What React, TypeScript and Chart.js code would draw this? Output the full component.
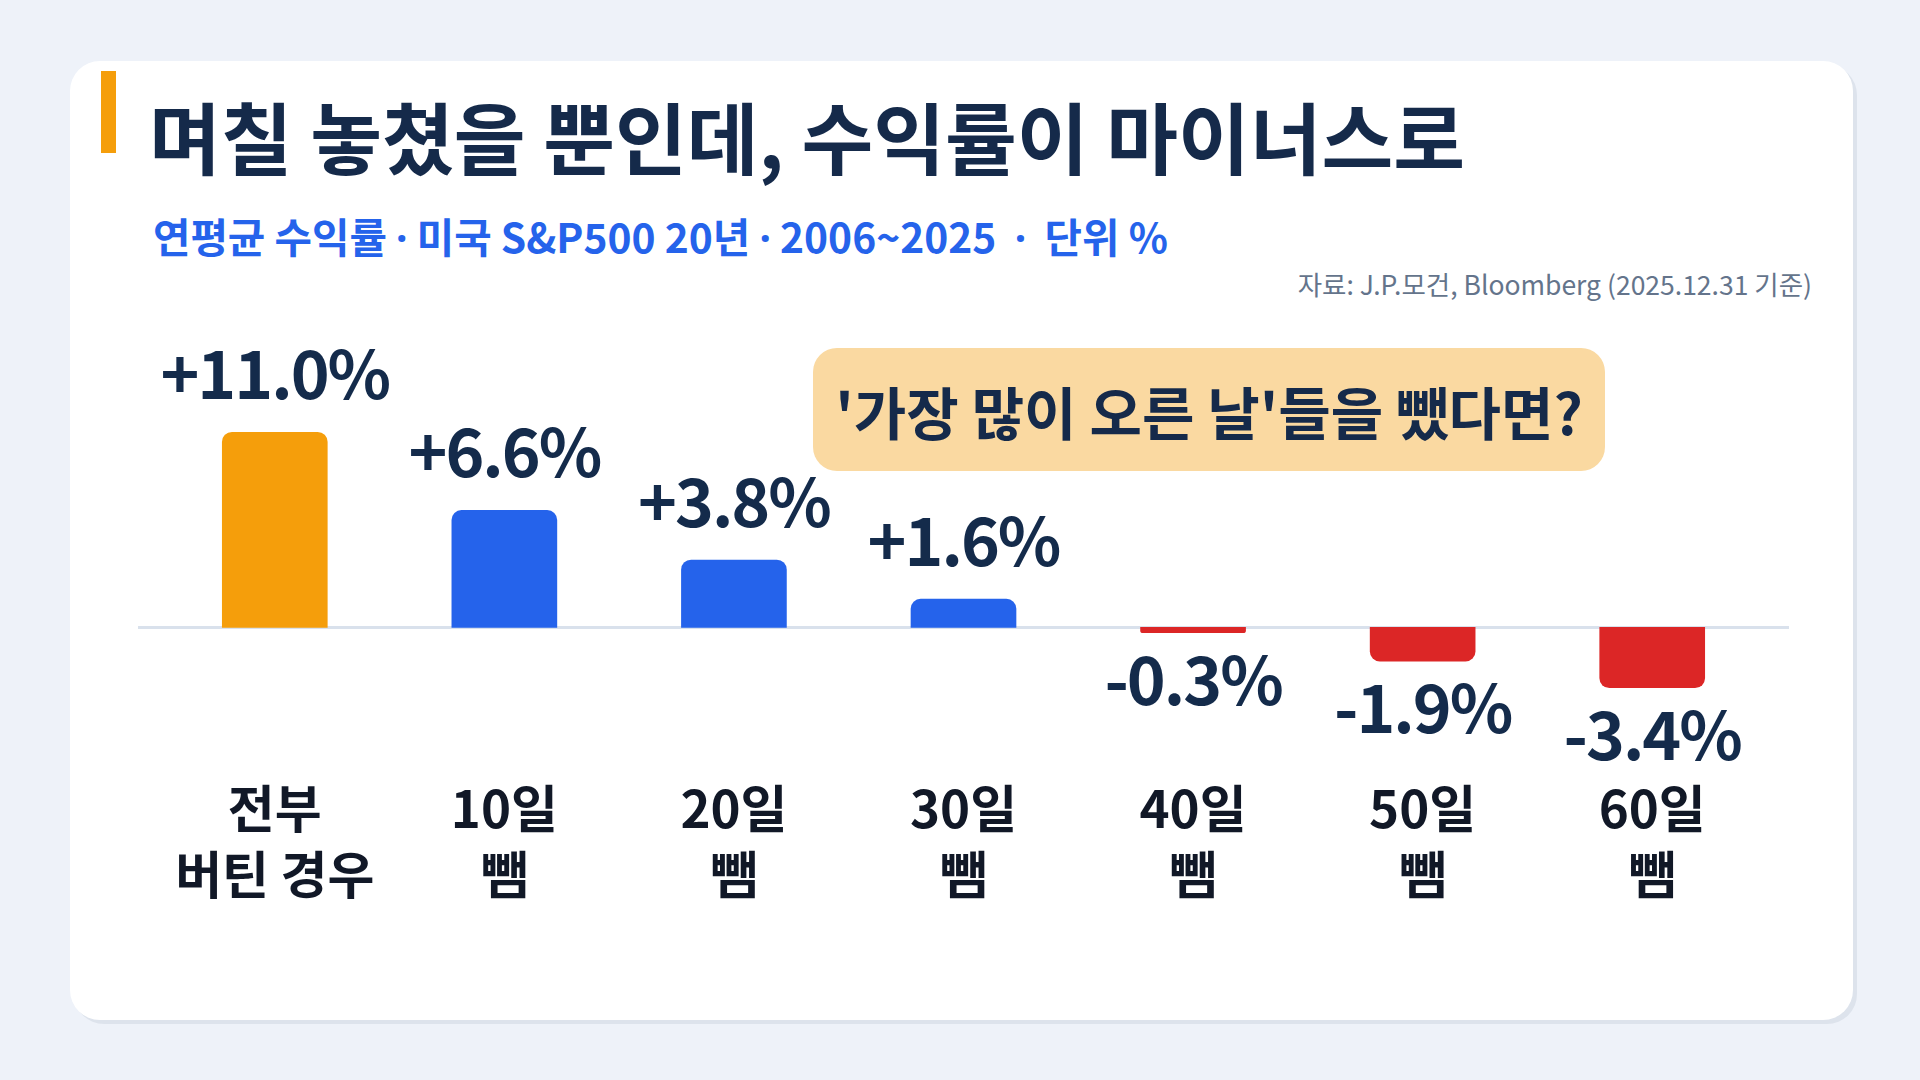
import { Chart, registerables } from "chart.js";
import { useEffect, useRef } from "react";

Chart.register(...registerables);

const FONT = "'Noto Sans CJK KR', 'Noto Sans', sans-serif";

const categories = [
  ["전부", "버틴 경우"],
  ["10일", "뺌"],
  ["20일", "뺌"],
  ["30일", "뺌"],
  ["40일", "뺌"],
  ["50일", "뺌"],
  ["60일", "뺌"],
];
const returns = [11.0, 6.6, 3.8, 1.6, -0.3, -1.9, -3.4];
const barColors = ["#f59e0b", "#2563eb", "#2563eb", "#2563eb", "#dc2626", "#dc2626", "#dc2626"];

const zeroLine = {
  id: "zeroLine",
  beforeDatasetsDraw(chart: Chart) {
    const { ctx, width } = chart;
    const y = chart.scales.y.getPixelForValue(0);
    ctx.save();
    ctx.strokeStyle = "#d9e1ec";
    ctx.lineWidth = 3;
    ctx.beginPath();
    ctx.moveTo(0, y);
    ctx.lineTo(width, y);
    ctx.stroke();
    ctx.restore();
  },
};

const valueLabels = {
  id: "valueLabels",
  afterDatasetsDraw(chart: Chart) {
    const { ctx } = chart;
    const meta = chart.getDatasetMeta(0);
    ctx.save();
    ctx.font = `700 66px ${FONT}`;
    (ctx as any).letterSpacing = "-2px";
    ctx.fillStyle = "#142b4b";
    ctx.textAlign = "center";
    ctx.textBaseline = "middle";
    meta.data.forEach((bar: any, i) => {
      const v = returns[i];
      const text = (v >= 0 ? "+" : "") + v.toFixed(1) + "%";
      const y = v >= 0 ? bar.y - 58 : bar.y + 47;
      ctx.fillText(text, bar.x, y);
    });
    ctx.restore();
  },
};

function ReturnsChart() {
  const canvasRef = useRef<HTMLCanvasElement>(null);

  useEffect(() => {
    if (!canvasRef.current) return;
    const chart = new Chart(canvasRef.current, {
      type: "bar",
      data: {
        labels: categories,
        datasets: [
          {
            data: returns,
            backgroundColor: barColors,
            borderRadius: 10,
            borderSkipped: "start",
            barThickness: 105,
          },
        ],
      },
      options: {
        animation: false,
        responsive: true,
        maintainAspectRatio: false,
        layout: { padding: { left: 22, right: 22, top: 79, bottom: 86 } },
        plugins: {
          legend: { display: false },
          tooltip: { enabled: false },
        },
        scales: {
          x: {
            grid: { display: false, drawTicks: false },
            border: { display: false },
            ticks: {
              autoSkip: false,
              maxRotation: 0,
              padding: 6,
              color: "#111827",
              font: { family: FONT, size: 51, weight: "bold", lineHeight: 1.3 },
            },
          },
          y: {
            display: false,
            min: -8,
            max: 14,
          },
        },
      },
      plugins: [zeroLine, valueLabels],
    });
    return () => chart.destroy();
  }, []);

  return <canvas ref={canvasRef}></canvas>;
}

const dot = { fontFamily: "'Noto Sans', sans-serif" };

export default function App() {
  return (
    <div
      style={{
        position: "absolute",
        left: 0,
        top: 0,
        width: 1920,
        height: 1080,
        background: "#eef2f9",
        fontFamily: FONT,
        overflow: "hidden",
      }}
    >
      <div
        style={{
          position: "absolute",
          left: 70,
          top: 61,
          width: 1783,
          height: 959,
          borderRadius: 30,
          background: "#ffffff",
          boxShadow: "4px 4px 0 #dde3ec",
        }}
      />
      <div
        style={{ position: "absolute", left: 101, top: 71, width: 15, height: 82, background: "#f59e0b" }}
      />
      <div
        style={{
          position: "absolute",
          left: 149,
          top: 96,
          fontSize: 78,
          lineHeight: "78px",
          fontWeight: 700,
          color: "#152a4a",
          whiteSpace: "nowrap",
        }}
      >
        며칠 놓쳤을 뿐인데, 수익률이 마이너스로
      </div>
      <div
        style={{
          position: "absolute",
          left: 153,
          top: 215,
          fontSize: 40.7,
          lineHeight: "41px",
          fontWeight: 700,
          color: "#2563eb",
          whiteSpace: "pre",
        }}
      >
        연평균 수익률 <span style={dot}>·</span> 미국 S&P500 20년 <span style={dot}>·</span> 2006~2025{"  "}
        <span style={dot}>·</span>
        {"  "}단위 %
      </div>
      <div
        style={{
          position: "absolute",
          right: 108,
          top: 270,
          fontSize: 26.5,
          lineHeight: "27px",
          color: "#64748b",
          whiteSpace: "nowrap",
        }}
      >
        자료: J.P.모건, Bloomberg (2025.12.31 기준)
      </div>
      <div style={{ position: "absolute", left: 138, top: 300, width: 1651, height: 700 }}>
        <ReturnsChart />
      </div>
      <div
        style={{
          position: "absolute",
          left: 813,
          top: 348,
          width: 792,
          height: 123,
          borderRadius: 24,
          background: "#fad9a1",
          display: "flex",
          alignItems: "center",
          justifyContent: "center",
          fontSize: 57,
          fontWeight: 700,
          color: "#152a4a",
          whiteSpace: "nowrap",
        }}
      >
        '가장 많이 오른 날'들을 뺐다면?
      </div>
    </div>
  );
}
